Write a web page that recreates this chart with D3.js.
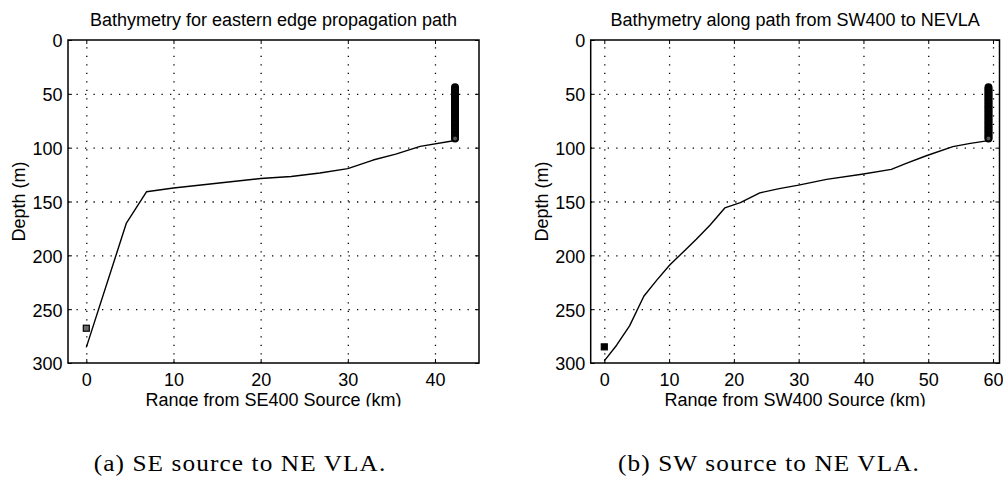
<!DOCTYPE html>
<html>
<head>
<meta charset="utf-8">
<script src="https://cdn.jsdelivr.net/npm/d3@7/dist/d3.min.js"></script>
<style>
  html, body { margin: 0; padding: 0; background: #fff; }
  svg { display: block; }
  .tick text { font-family: "Liberation Sans", Arial, sans-serif; font-size: 18px; fill: #000; }
  .lbl { font-family: "Liberation Sans", Arial, sans-serif; font-size: 18px; fill: #000; }
  .cap { font-family: "Liberation Serif", "Times New Roman", serif; font-size: 23px; fill: #000; letter-spacing: 1px; }
</style>
</head>
<body>
<svg id="fig" width="1003" height="480"></svg>
<script>
// ---- Panel (a): SE400 source to NE VLA, eastern edge path ----
const seRange = [0, 4.6, 6.9, 10, 15, 20, 23.5, 26.8, 30, 32.9, 35.5, 38.3, 42.3];
const seDepth = [285.5, 170, 141, 137.5, 133, 128.7, 126.8, 123.5, 119.5, 111.5, 106, 98.8, 93.3];
const seSource = [{ range: 0, depth: 267.7 }];
const seVlaRange = 42.3;

// ---- Panel (b): SW400 source to NE VLA ----
const swRange = [0, 1.9, 3.9, 6.1, 8.1, 10.1, 12.5, 14.2, 16.3, 18.6, 21, 24, 27, 30, 34.3, 40, 44.3, 46.6, 49.7, 53.8, 56.5, 59.3];
const swDepth = [298, 283.5, 265.5, 238, 223, 209, 195, 185, 172, 156, 151, 142, 138, 134.8, 129.5, 124.5, 120.2, 114.6, 107.5, 99, 96, 93.5];
const swSource = [{ range: 0, depth: 285 }];
const swVlaRange = 59.3;

// Hydrophone depths of the vertical line array (m)
const vlaDepth = [44, 45.5, 47, 48.5, 50, 51.5, 53, 54.5, 56, 57.5, 59, 60.5, 62, 63.5, 65, 66.5, 68,
                  69.5, 71, 72.5, 74, 75.5, 77, 78.5, 80, 81.5, 83, 84.5, 86, 87.5, 89, 90.5, 91.5];

// Axis ticks
const depthTicks = [0, 50, 100, 150, 200, 250, 300];
const seRangeTicks = [0, 10, 20, 30, 40];
const swRangeTicks = [0, 10, 20, 30, 40, 50, 60];

const panels = [
  {
    title: "Bathymetry for eastern edge propagation path",
    xlabel: "Range from SE400 Source (km)",
    caption: "(a) SE source to NE VLA.",
    range: seRange, depth: seDepth, source: seSource, vlaRange: seVlaRange,
    xTicks: seRangeTicks, xDomain: [-2.1, 45.05],
    left: 68, right: 479, capX: 240, ylabX: 25, srcFill: "#6a6a6a"
  },
  {
    title: "Bathymetry along path from SW400 to NEVLA",
    xlabel: "Range from SW400 Source (km)",
    caption: "(b) SW source to NE VLA.",
    range: swRange, depth: swDepth, source: swSource, vlaRange: swVlaRange,
    xTicks: swRangeTicks, xDomain: [-2.1, 61],
    left: 590.7, right: 999.5, capX: 769, ylabX: 547.5, srcFill: "#000"
  }
];

const plotTop = 40, plotBottom = 363;
const svg = d3.select("#fig");

// clip that trims the axis-label descenders
svg.append("defs").append("clipPath").attr("id", "labelClip")
  .append("rect").attr("x", 0).attr("y", 0).attr("width", 1003).attr("height", 406.5);

panels.forEach(p => {
  const x = d3.scaleLinear().domain(p.xDomain).range([p.left, p.right]);
  const y = d3.scaleLinear().domain([0, 300]).range([plotTop, plotBottom]);
  const g = svg.append("g");
  const w = p.right - p.left, h = plotBottom - plotTop;

  // dotted grid
  const gx = g.append("g").attr("transform", `translate(0,${plotBottom})`)
    .call(d3.axisBottom(x).tickValues(p.xTicks).tickSize(-h).tickFormat(""));
  const gy = g.append("g").attr("transform", `translate(${p.left},0)`)
    .call(d3.axisLeft(y).tickValues(depthTicks.slice(1, -1)).tickSize(-w).tickFormat(""));
  [gx, gy].forEach(a => {
    a.select(".domain").remove();
    a.selectAll(".tick line").attr("stroke", "#000").attr("stroke-width", 1.3)
      .attr("stroke-dasharray", "1.3,7.2");
  });

  // bathymetry profile
  const pts = p.range.map((r, i) => [r, p.depth[i]]);
  g.append("path").datum(pts)
    .attr("fill", "none").attr("stroke", "#000").attr("stroke-width", 1.4)
    .attr("stroke-linejoin", "round")
    .attr("d", d3.line().x(d => x(d[0])).y(d => y(d[1])));

  // source position
  g.selectAll(".src").data(p.source).enter().append("rect")
    .attr("x", d => x(d.range) - 3).attr("y", d => y(d.depth) - 3)
    .attr("width", 6).attr("height", 6)
    .attr("fill", p.srcFill).attr("stroke", "#000").attr("stroke-width", 1.2);

  // receiving array hydrophones
  g.selectAll(".vla").data(vlaDepth).enter().append("circle")
    .attr("cx", x(p.vlaRange)).attr("cy", d => y(d)).attr("r", 3)
    .attr("fill", "#555").attr("stroke", "#000").attr("stroke-width", 2);

  // axes with inward ticks on all four sides
  const ax = g.append("g").attr("transform", `translate(0,${plotBottom})`)
    .call(d3.axisBottom(x).tickValues(p.xTicks).tickSizeInner(-4).tickSizeOuter(0).tickPadding(10.7));
  const axT = g.append("g").attr("transform", `translate(0,${plotTop})`)
    .call(d3.axisTop(x).tickValues(p.xTicks).tickSizeInner(-4).tickSizeOuter(0).tickFormat(""));
  const ay = g.append("g").attr("transform", `translate(${p.left},0)`)
    .call(d3.axisLeft(y).tickValues(depthTicks).tickSizeInner(-4).tickSizeOuter(0).tickPadding(5.5));
  const ayR = g.append("g").attr("transform", `translate(${p.right},0)`)
    .call(d3.axisRight(y).tickValues(depthTicks).tickSizeInner(-4).tickSizeOuter(0).tickFormat(""));
  [ax, axT, ay, ayR].forEach(a => {
    a.select(".domain").remove();
    a.selectAll(".tick line").attr("stroke", "#000").attr("stroke-width", 1);
  });
  ay.selectAll(".tick text").attr("dy", "0.38em");

  // frame
  g.append("rect").attr("x", p.left).attr("y", plotTop).attr("width", w).attr("height", h)
    .attr("fill", "none").attr("stroke", "#000").attr("stroke-width", 1.5);

  // title and axis labels
  g.append("text").attr("class", "lbl").attr("x", (p.left + p.right) / 2).attr("y", 26)
    .attr("text-anchor", "middle").text(p.title);
  g.append("text").attr("class", "lbl").attr("x", (p.left + p.right) / 2).attr("y", 405.5)
    .attr("text-anchor", "middle").attr("clip-path", "url(#labelClip)").text(p.xlabel);
  g.append("text").attr("class", "lbl")
    .attr("transform", `translate(${p.ylabX},${(plotTop + plotBottom) / 2}) rotate(-90)`)
    .attr("text-anchor", "middle").text("Depth (m)");

  // sub-figure caption
  g.append("text").attr("class", "cap")
    .attr("transform", `translate(${p.capX},470.5) scale(1.1,1)`)
    .attr("text-anchor", "middle").text(p.caption);
});
</script>
</body>
</html>
